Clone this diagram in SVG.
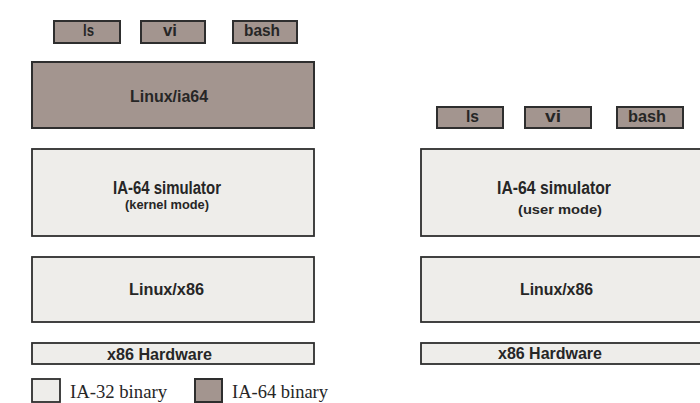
<svg xmlns="http://www.w3.org/2000/svg" width="700" height="403" viewBox="0 0 700 403">
<style>
.bg{fill:#ffffff}
.d{fill:#a3958f;stroke:#2e2e2e;stroke-width:2}
.l{fill:#eeedea;stroke:#2e2e2e;stroke-width:1.8}
.t{font-family:"Liberation Sans",Arial,sans-serif;font-weight:bold;fill:#262626}
.s{font-family:"Liberation Serif","Times New Roman",serif;fill:#262626}
</style>
<rect class="bg" x="0" y="0" width="700" height="403"/>
<g id="left-stack">
<g id="l-ls"><rect class="d" x="54" y="21" width="66" height="22"/><text class="t" x="83" y="36" font-size="16" textLength="11" lengthAdjust="spacingAndGlyphs">ls</text></g>
<g id="l-vi"><rect class="d" x="141" y="21" width="64" height="22"/><text class="t" x="163" y="36" font-size="16" textLength="14" lengthAdjust="spacingAndGlyphs">vi</text></g>
<g id="l-bash"><rect class="d" x="233" y="21" width="64" height="22"/><text class="t" x="244" y="36" font-size="16" textLength="36" lengthAdjust="spacingAndGlyphs">bash</text></g>
<g id="l-linuxia64"><rect class="d" x="32" y="62" width="282" height="66"/><text class="t" x="130" y="102" font-size="17" textLength="78" lengthAdjust="spacingAndGlyphs">Linux/ia64</text></g>
<g id="l-sim"><rect class="l" x="32" y="149" width="282" height="87"/><text class="t" x="113" y="194" font-size="17.5" textLength="108" lengthAdjust="spacingAndGlyphs">IA-64 simulator</text><text class="t" x="125" y="209" font-size="13.5" textLength="84" lengthAdjust="spacingAndGlyphs">(kernel mode)</text></g>
<g id="l-linuxx86"><rect class="l" x="32" y="257" width="282" height="65"/><text class="t" x="129" y="295" font-size="17" textLength="75" lengthAdjust="spacingAndGlyphs">Linux/x86</text></g>
<g id="l-hw"><rect class="l" x="32" y="343" width="282" height="21"/><text class="t" x="107" y="360" font-size="17" textLength="105" lengthAdjust="spacingAndGlyphs">x86 Hardware</text></g>
</g>
<g id="right-stack">
<g id="r-ls"><rect class="d" x="437" y="107" width="66" height="21"/><text class="t" x="466" y="122" font-size="16" textLength="13" lengthAdjust="spacingAndGlyphs">ls</text></g>
<g id="r-vi"><rect class="d" x="525" y="107" width="66" height="21"/><text class="t" x="545" y="122" font-size="16" textLength="16" lengthAdjust="spacingAndGlyphs">vi</text></g>
<g id="r-bash"><rect class="d" x="617" y="107" width="66" height="21"/><text class="t" x="628" y="122" font-size="16" textLength="38" lengthAdjust="spacingAndGlyphs">bash</text></g>
<g id="r-sim"><rect class="l" x="421" y="149" width="282" height="87"/><text class="t" x="497" y="194" font-size="17.5" textLength="114" lengthAdjust="spacingAndGlyphs">IA-64 simulator</text><text class="t" x="518" y="214" font-size="13.5" textLength="84" lengthAdjust="spacingAndGlyphs">(user mode)</text></g>
<g id="r-linuxx86"><rect class="l" x="421" y="257" width="282" height="65"/><text class="t" x="520" y="295" font-size="17" textLength="73" lengthAdjust="spacingAndGlyphs">Linux/x86</text></g>
<g id="r-hw"><rect class="l" x="421" y="343" width="282" height="21"/><text class="t" x="498" y="359" font-size="17" textLength="104" lengthAdjust="spacingAndGlyphs">x86 Hardware</text></g>
</g>
<g id="legend">
<g id="leg-ia32"><rect class="l" x="32" y="379" width="28" height="23"/><text class="s" x="70" y="398" font-size="18" textLength="97" lengthAdjust="spacingAndGlyphs">IA-32 binary</text></g>
<g id="leg-ia64"><rect class="d" x="195" y="379" width="27" height="23"/><text class="s" x="232" y="398" font-size="18" textLength="96" lengthAdjust="spacingAndGlyphs">IA-64 binary</text></g>
</g>
<g id="connectors"/>
</svg>
